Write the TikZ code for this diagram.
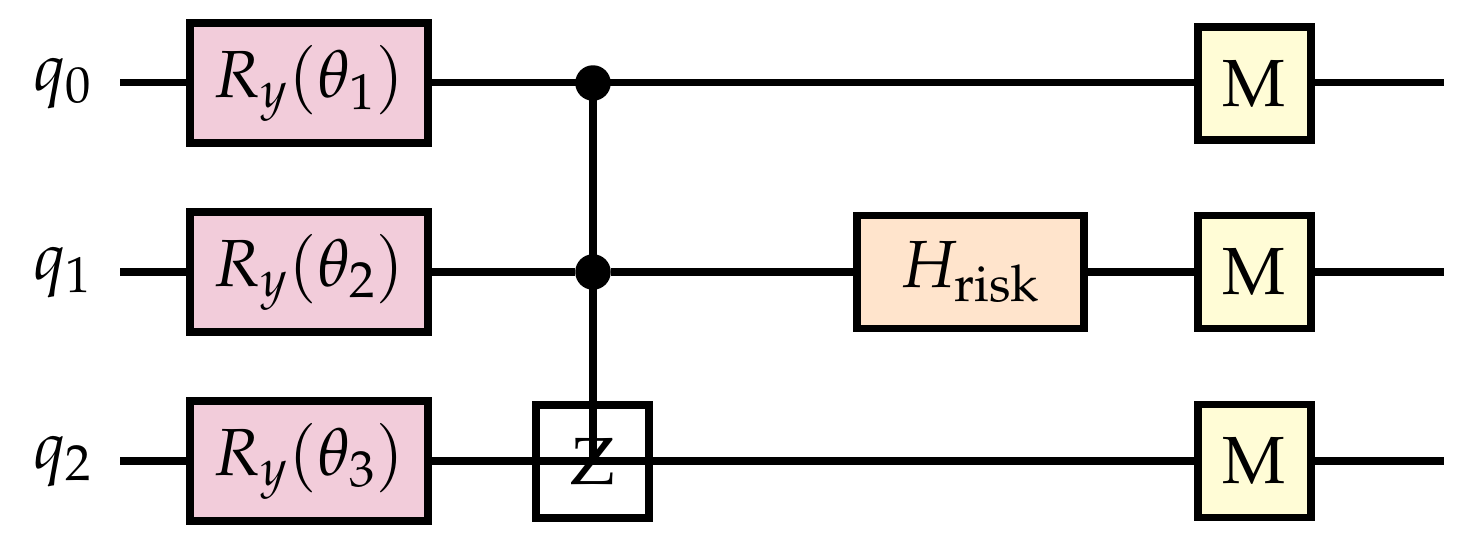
\documentclass[tikz,border=0pt]{standalone}
\usepackage{mathpazo}
\definecolor{gpink}{HTML}{F2CCDA}
\definecolor{gorange}{HTML}{FFE4CC}
\definecolor{gyellow}{HTML}{FFFCD6}
\newcommand{\pal}{\usefont{OT1}{ppl}{m}{n}}
\tikzset{
  pxs/.style={x=0.3pt,y=-0.3pt},
  gate/.style={draw=black,line width=2.35pt,inner sep=0pt,anchor=center},
  rygate/.style={gate,fill=gpink,minimum width=71.4pt,minimum height=35.8pt},
  hgate/.style={gate,fill=gorange,minimum width=68.1pt,minimum height=33.9pt},
  mgate/.style={gate,fill=gyellow,minimum width=33.9pt,minimum height=33.9pt},
  zgate/.style={gate,minimum width=33.9pt,minimum height=33.9pt},
  wire/.style={line width=2.35pt},
  ctrl/.style={circle,fill=black,draw=none,minimum size=10.65pt,inner sep=0pt},
  qlabel/.style={inner sep=0pt,anchor=center}
}
\begin{document}
\begin{tikzpicture}[pxs,font=\fontsize{20}{24}\selectfont]
\useasboundingbox (0,0) rectangle (1470,546);
% wire free ends
\coordinate (s0) at (120,82.5);
\coordinate (s1) at (120,272);
\coordinate (s2) at (120,461);
\coordinate (e0) at (1444,82.5);
\coordinate (e1) at (1444,272);
\coordinate (e2) at (1444,461);
% gates
\node[rygate] (ry1) at (309,83) {$R_y(\theta_1)$};
\node[rygate] (ry2) at (309,272) {$R_y(\theta_2)$};
\node[rygate] (ry3) at (309,461) {$R_y(\theta_3)$};
\node[ctrl] (c0) at (593,83) {};
\node[ctrl] (c1) at (593,272) {};
\node[hgate] (h) at (970.5,272) {$H_{\mathrm{risk}}$};
\node[mgate] (m0) at (1254.5,83.5) {\pal M};
\node[mgate] (m1) at (1254.5,272) {\pal M};
\node[mgate] (m2) at (1254.5,461) {\pal M};
\node[zgate] (z) at (592.5,461.5) {\pal Z};
% labels
\node[qlabel] (l0) at (63,84) {$q_0$};
\node[qlabel] (l1) at (63,273) {$q_1$};
\node[qlabel] (l2) at (63,462) {$q_2$};
% wires
\draw[wire] (s0) -- (ry1.west |- s0);
\draw[wire] (ry1.east |- s0) -- (m0.west |- s0);
\draw[wire] (m0.east |- s0) -- (e0);
\draw[wire] (s1) -- (ry2);
\draw[wire] (ry2) -- (c1) -- (h);
\draw[wire] (h) -- (m1);
\draw[wire] (m1) -- (e1);
\draw[wire] (s2) -- (ry3);
\draw[wire] (ry3.east) -- (m2.west);
\draw[wire] (m2) -- (e2);
\draw[wire] (c0.center) -- (c0.center |- z.center);
\end{tikzpicture}
\end{document}
